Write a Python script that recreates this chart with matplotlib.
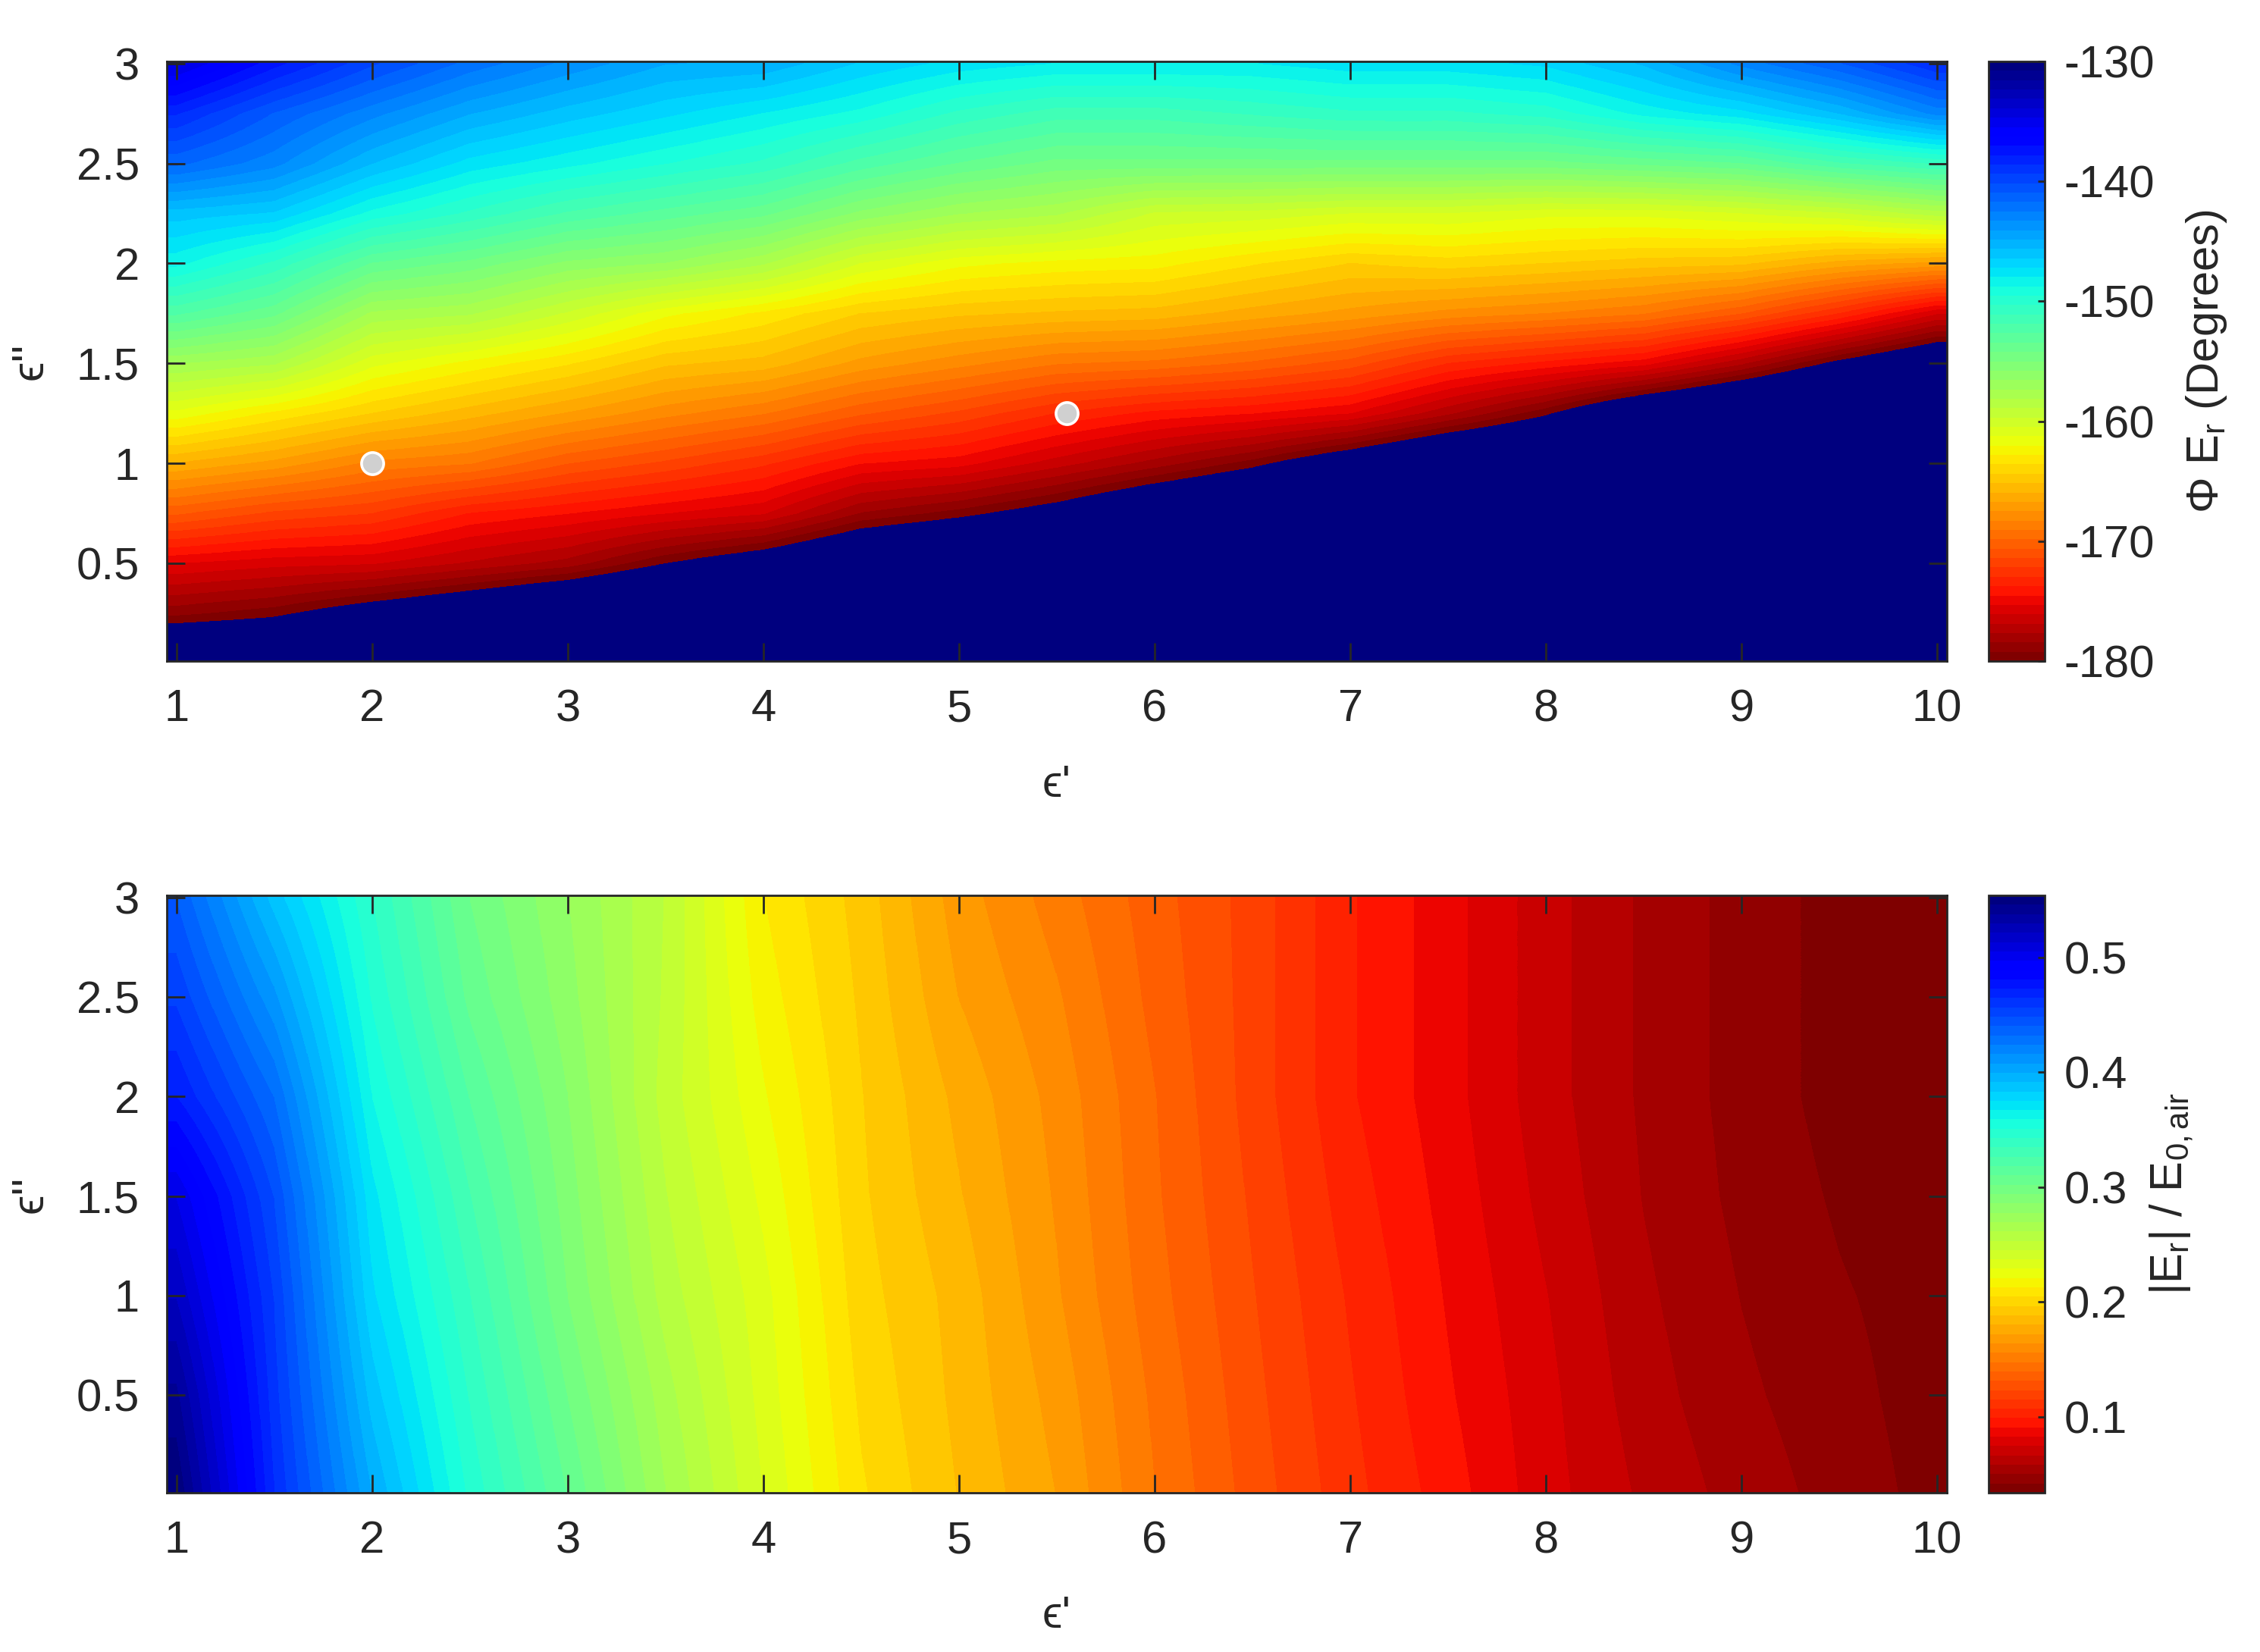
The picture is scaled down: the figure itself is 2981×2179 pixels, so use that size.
import numpy as np
import matplotlib
matplotlib.use("Agg")
import matplotlib.pyplot as plt
from matplotlib.ticker import FormatStrFormatter

plt.rcParams['font.family'] = ['Liberation Sans', 'DejaVu Sans']
plt.rcParams['mathtext.fontset'] = 'custom'
plt.rcParams['mathtext.rm'] = 'Liberation Sans'
plt.rcParams['mathtext.it'] = 'Liberation Sans:italic'
plt.rcParams['mathtext.default'] = 'regular'

# grid of the real part of permittivity (columns)
eps_real = [1, 1.5, 2, 2.5, 3, 3.5, 4, 4.5, 5, 5.5, 6, 6.5, 7, 7.5, 8, 8.5, 9, 9.5, 10]

# phase of E_r (degrees), one list per eps' column, eps'' = 0 ... 3 in 0.25 steps
# values below -180 are the wrapped region (drawn dark blue)
eps_imag_phase = [0, 0.25, 0.5, 0.75, 1.0, 1.25, 1.5, 1.75, 2.0, 2.25, 2.5, 2.75, 3.0]
phase_cols = [
    [-184, -179, -175.3, -170.5, -166, -161.5, -157.3, -152.5, -148.5, -146, -141.5, -138.5, -134.5],
    [-184, -179.7, -175.8, -171.6, -167, -163, -158, -154, -150.5, -146.5, -143, -141, -137.5],
    [-186, -181.2, -176, -172.2, -168.5, -164.4, -161, -157.5, -153.5, -149, -145.6, -143, -140],
    [-187, -182.5, -177, -173.8, -169, -165.6, -162.3, -158, -154.5, -150.5, -147.5, -144.8, -142],
    [-189, -184, -178, -174.5, -170.6, -166.8, -163.5, -159.8, -156, -152, -148.5, -146, -143.5],
    [-191, -185.5, -180, -175.3, -171.6, -168, -165, -161.8, -156.6, -153, -149.5, -147, -144.8],
    [-192, -187, -181.5, -176, -172.8, -169, -165.5, -163, -158, -154, -150.5, -148, -145],
    [-194, -189, -183.5, -178.5, -174.5, -170.5, -167, -164.4, -160.5, -156, -152.2, -149, -146.5],
    [-195, -190, -184.5, -179.6, -175, -171.6, -168, -165, -161.8, -157.3, -153.5, -150.5, -147.5],
    [-196, -191, -186, -181, -176.5, -173, -169, -165.3, -162.3, -158, -154.5, -151.5, -148],
    [-198, -193, -188, -183, -178, -174, -169.3, -165.5, -162.5, -159.8, -154.5, -151.5, -148],
    [-199, -194, -189, -184.5, -179.6, -174.5, -170, -166.3, -163.5, -160, -154.5, -151, -148],
    [-202, -197, -192, -186.5, -181.8, -175.3, -171, -167, -164.4, -160.5, -154.5, -150.5, -147.5],
    [-204, -199, -194, -189, -184, -177.5, -173, -167.8, -164, -160.5, -154.5, -150.5, -147.5],
    [-205, -200, -195, -190, -185, -179.8, -174, -168.3, -164.4, -161, -154.5, -150, -147],
    [-208, -203, -198, -193, -188, -183, -175, -169, -164.8, -161, -154, -148.5, -145.5],
    [-210, -205, -200, -195, -190, -185, -177.5, -170.6, -165, -160.5, -153.5, -147.5, -143],
    [-212, -207, -202, -197, -192, -187, -180.5, -173, -166.3, -159.8, -152, -145.6, -141],
    [-214, -209, -204, -199, -194, -189, -183, -176, -167, -158.5, -151, -143, -138.6],
]

# |E_r| / E_0,air, one list per eps'' row (0 ... 3 in 0.5 steps)
eps_imag_mag = [0, 0.5, 1.0, 1.5, 2.0, 2.5, 3.0]
mag_rows = [
    [0.554, 0.465, 0.400, 0.349, 0.310, 0.270, 0.237, 0.206, 0.188, 0.172, 0.148, 0.128, 0.110, 0.095, 0.078, 0.065, 0.055, 0.047, 0.039],
    [0.540, 0.460, 0.388, 0.342, 0.302, 0.265, 0.234, 0.203, 0.186, 0.169, 0.146, 0.126, 0.108, 0.092, 0.077, 0.062, 0.052, 0.045, 0.038],
    [0.521, 0.456, 0.377, 0.335, 0.294, 0.258, 0.232, 0.200, 0.185, 0.165, 0.143, 0.124, 0.106, 0.090, 0.075, 0.060, 0.050, 0.043, 0.038],
    [0.505, 0.448, 0.370, 0.327, 0.290, 0.254, 0.227, 0.198, 0.181, 0.163, 0.141, 0.122, 0.103, 0.088, 0.072, 0.058, 0.048, 0.041, 0.036],
    [0.473, 0.432, 0.359, 0.318, 0.286, 0.250, 0.222, 0.197, 0.178, 0.161, 0.140, 0.120, 0.100, 0.086, 0.070, 0.057, 0.047, 0.039, 0.034],
    [0.455, 0.410, 0.350, 0.308, 0.281, 0.252, 0.217, 0.195, 0.172, 0.157, 0.137, 0.120, 0.100, 0.086, 0.070, 0.057, 0.047, 0.039, 0.034],
    [0.440, 0.388, 0.343, 0.302, 0.278, 0.253, 0.213, 0.193, 0.168, 0.152, 0.135, 0.120, 0.100, 0.086, 0.070, 0.057, 0.047, 0.039, 0.034],
]

# measured samples marked on the phase map
sample_eps_real = [2.0, 5.55]
sample_eps_imag = [1.0, 1.25]

phase_ticks = [-180, -170, -160, -150, -140, -130]
mag_ticks = [0.1, 0.2, 0.3, 0.4, 0.5]

DARK = '#262626'
FS = 21.5

base = matplotlib.colormaps['jet_r'].resampled(64)
cmap_phase = base.with_extremes(under=base(1.0))


def heat_panel(fig, rect, crect, data, yvals, vmin, vmax, cmap, cticks, clabel, clabelpad):
    ax = fig.add_axes(rect)
    dx = eps_real[1] - eps_real[0]
    dy = yvals[1] - yvals[0]
    im = ax.imshow(np.asarray(data), origin='lower', aspect='auto',
                   extent=[eps_real[0] - dx / 2, eps_real[-1] + dx / 2,
                           yvals[0] - dy / 2, yvals[-1] + dy / 2],
                   interpolation='bilinear', interpolation_stage='data',
                   cmap=cmap, vmin=vmin, vmax=vmax)
    ax.set_xlim(0.95, 10.05)
    ax.set_ylim(0.01, 3.01)
    ax.set_xticks(range(1, 11))
    ax.set_yticks([0.5, 1, 1.5, 2, 2.5, 3])
    ax.yaxis.set_major_formatter(FormatStrFormatter('%g'))
    ax.tick_params(direction='in', length=8.6, width=1.0, top=True, right=True,
                   labelsize=FS, colors=DARK, pad=13)
    for s in ax.spines.values():
        s.set_color(DARK)
        s.set_linewidth(1.0)
    ax.set_xlabel("\u03f5'", fontsize=FS, color=DARK, labelpad=16)
    ax.set_ylabel("\u03f5''", fontsize=FS, color=DARK, labelpad=12)

    cax = fig.add_axes(crect)
    cb = fig.colorbar(im, cax=cax, ticks=cticks)
    cb.ax.tick_params(direction='in', length=3.2, width=1.0, labelsize=FS,
                      colors=DARK, pad=9)
    cb.ax.yaxis.set_major_formatter(FormatStrFormatter('%g'))
    cb.outline.set_edgecolor(DARK)
    cb.outline.set_linewidth(1.0)
    cb.set_label(clabel, fontsize=FS, color=DARK, labelpad=clabelpad)
    return ax


fig = plt.figure(figsize=(2981 / 200, 2179 / 200), dpi=200)

ax1 = heat_panel(fig, [0.0738, 0.5998, 0.7877, 0.3630], [0.8800, 0.5998, 0.0248, 0.3630],
                 np.array(phase_cols).T, eps_imag_phase, -180, -130, cmap_phase,
                 phase_ticks, '\u03a6 E$_r$ (Degrees)', 14)
ax1.plot(sample_eps_real, sample_eps_imag, 'o', ms=10.5, mfc='#d0d0d0',
         mec='white', mew=1.3, zorder=5)

heat_panel(fig, [0.0738, 0.0964, 0.7877, 0.3616], [0.8800, 0.0964, 0.0248, 0.3616],
           mag_rows, eps_imag_mag, 0.034, 0.554, base,
           mag_ticks, '|E$_r$| / E$_{0,air}$', 10)

fig.savefig('out.png', dpi=200)
